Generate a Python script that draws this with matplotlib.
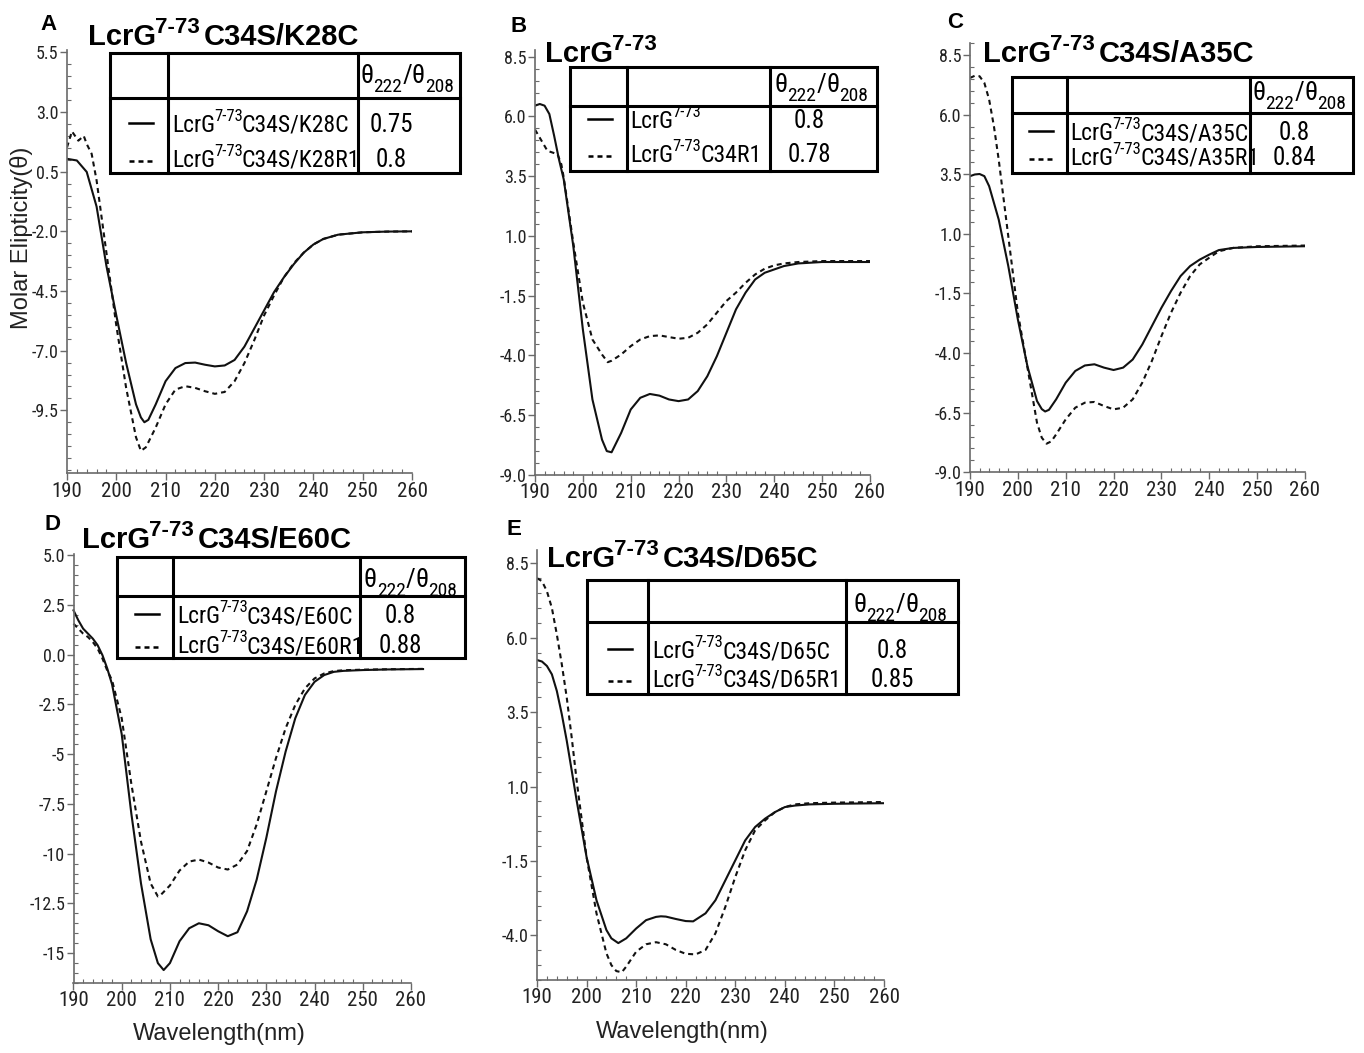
import matplotlib
matplotlib.use('Agg')
import matplotlib.pyplot as plt
from matplotlib import font_manager as fm
from matplotlib.patches import Rectangle
from matplotlib.ticker import FixedLocator, MultipleLocator

plt.rcParams['axes.unicode_minus'] = False

_have = set(f.name for f in fm.fontManager.ttflist)
NARROW = 'Liberation Sans'
for cand in ['Liberation Sans Narrow', 'Arial Narrow', 'Roboto Condensed', 'Archivo Narrow',
             'Barlow Semi Condensed', 'Asap Condensed']:
    if cand in _have:
        NARROW = cand
        break
SANS = 'Liberation Sans'

# ---------------- data ----------------
x_ticks = [190, 200, 210, 220, 230, 240, 250, 260]

# A  LcrG7-73 C34S/K28C
wl_A_cys = [190, 192, 194, 196, 198, 200, 202, 204, 205, 205.7, 206.5, 208, 210, 212, 214, 216, 218, 220,
            222, 224, 226, 228, 230, 232, 234, 236, 238, 240, 242, 245, 250, 255, 260]
A_cys = [1.04, 0.97, 0.49, -0.96, -3.45, -5.52, -7.52, -9.25, -9.8, -10.0, -9.9, -9.25, -8.28, -7.73,
         -7.52, -7.50, -7.59, -7.66, -7.62, -7.39, -6.83, -6.07, -5.31, -4.55, -3.93, -3.38, -2.90,
         -2.55, -2.32, -2.14, -2.04, -2.01, -2.0]
wl_A_r1 = [190, 191, 192.3, 193.4, 194, 195, 196, 198, 200, 202, 204, 205, 206, 208, 210, 212, 214, 216,
           218, 220, 222, 224, 226, 228, 230, 232, 234, 236, 238, 240, 242, 245, 250, 255, 260]
A_r1 = [1.52, 2.19, 1.80, 2.0, 1.66, 1.25, 0.14, -2.90, -5.94, -8.56, -10.63, -11.2, -11.05, -10.22,
        -9.25, -8.63, -8.49, -8.56, -8.70, -8.81, -8.73, -8.28, -7.52, -6.56, -5.52, -4.69, -3.93,
        -3.34, -2.90, -2.55, -2.32, -2.14, -2.04, -2.01, -2.0]

# B  LcrG7-73 / LcrG7-73 C34R1
wl_B_wt = [190, 191, 192, 193, 194, 195, 196, 198, 200, 202, 204, 205, 206, 208, 210, 212, 214, 216, 218,
           220, 222, 224, 226, 228, 230, 232, 234, 236, 238, 240, 242, 245, 250, 260]
B_wt = [6.45, 6.52, 6.45, 6.10, 5.19, 4.21, 3.37, 0.58, -2.91, -5.84, -7.52, -8.0, -8.05, -7.24, -6.26,
        -5.77, -5.61, -5.68, -5.84, -5.91, -5.84, -5.49, -4.87, -4.03, -3.05, -2.07, -1.37, -0.82,
        -0.54, -0.40, -0.26, -0.15, -0.09, -0.09]
wl_B_r1 = [190, 192.6, 194.7, 195.5, 196, 198, 200, 202, 204, 205.2, 206, 208, 210, 212, 214, 216, 218,
           220, 222, 224, 226, 228, 230, 232, 234, 236, 238, 240, 242, 245, 250, 260]
B_r1 = [5.45, 4.56, 4.42, 4.0, 3.45, 0.72, -1.79, -3.33, -3.96, -4.28, -4.22, -3.96, -3.61, -3.33, -3.19,
        -3.16, -3.23, -3.30, -3.26, -3.05, -2.70, -2.21, -1.72, -1.37, -0.96, -0.61, -0.37, -0.23,
        -0.15, -0.09, -0.05, -0.05]

# C  LcrG7-73 C34S/A35C
wl_C_cys = [190, 191, 192, 193, 194, 196, 198, 200, 202, 204, 205, 205.7, 206.5, 208, 210, 212, 214, 216,
            218, 220, 222, 224, 226, 228, 230, 232, 234, 236, 238, 240, 242, 245, 250, 260]
C_cys = [3.42, 3.49, 3.51, 3.42, 3.0, 1.60, -0.35, -2.59, -4.55, -6.01, -6.35, -6.45, -6.38, -5.94, -5.24,
         -4.75, -4.52, -4.47, -4.61, -4.71, -4.61, -4.27, -3.64, -2.87, -2.10, -1.40, -0.77, -0.35,
         -0.08, 0.13, 0.32, 0.41, 0.45, 0.48]
wl_C_r1 = [190, 191, 192, 193, 194, 195, 196, 198, 200, 202, 204, 205, 206, 207, 208, 210, 212, 214, 216,
           218, 220, 222, 224, 226, 228, 230, 232, 234, 236, 238, 240, 242, 245, 250, 260]
C_r1 = [7.54, 7.63, 7.61, 7.33, 6.63, 5.51, 4.11, 0.90, -2.31, -4.6, -6.92, -7.55, -7.8, -7.7, -7.41,
        -6.78, -6.29, -6.08, -6.05, -6.22, -6.36, -6.29, -5.94, -5.24, -4.33, -3.29, -2.31, -1.47,
        -0.77, -0.28, 0.0, 0.27, 0.41, 0.48, 0.51]

# D  LcrG7-73 C34S/E60C
wl_D_cys = [190, 191, 192, 193, 194, 195, 196, 197, 198, 200, 202, 204, 206, 207.5, 208.7, 210, 212, 214,
            216, 218, 220, 222, 224, 226, 228, 230, 232, 234, 236, 238, 240, 242, 244, 246, 250, 255, 262.5]
D_cys = [2.22, 1.72, 1.30, 1.05, 0.80, 0.47, -0.03, -0.70, -1.5, -4.0, -8.0, -11.5, -14.3, -15.5, -15.85,
         -15.5, -14.4, -13.75, -13.5, -13.6, -13.9, -14.15, -13.95, -12.9, -11.3, -9.2, -6.87, -4.87,
         -3.2, -2.03, -1.37, -1.03, -0.87, -0.82, -0.78, -0.75, -0.73]
wl_D_r1 = [190, 191, 192, 193, 194, 195, 196, 197, 198, 200, 202, 204, 206, 207.5, 208, 210, 212, 214,
           216, 218, 220, 222, 224, 226, 228, 230, 232, 234, 236, 238, 240, 242, 244, 246, 250, 255, 262.5]
D_r1 = [1.55, 1.30, 1.05, 0.88, 0.63, 0.30, -0.2, -0.8, -1.3, -3.2, -6.5, -9.4, -11.5, -12.15, -12.1,
        -11.6, -10.85, -10.4, -10.3, -10.45, -10.7, -10.8, -10.55, -9.87, -8.53, -6.87, -5.2, -3.7,
        -2.53, -1.7, -1.2, -0.95, -0.83, -0.79, -0.76, -0.74, -0.72]

# E  LcrG7-73 C34S/D65C
wl_E_cys = [190, 191, 192, 193, 194, 195, 196, 197, 198, 200, 202, 204, 205, 206.4, 208, 210, 212, 214,
            215, 216, 218, 220, 221.5, 224, 226, 228, 230, 232, 234, 236, 238, 240, 242, 245, 250, 260]
E_cys = [5.25, 5.20, 5.05, 4.77, 4.21, 3.43, 2.54, 1.54, 0.53, -1.37, -2.82, -3.82, -4.1, -4.26, -4.10,
         -3.77, -3.49, -3.38, -3.36, -3.37, -3.45, -3.52, -3.53, -3.26, -2.82, -2.15, -1.48, -0.81,
         -0.36, -0.08, 0.14, 0.31, 0.36, 0.40, 0.42, 0.44]
wl_E_r1 = [190, 191, 192, 193, 194, 195, 196, 197, 198, 200, 202, 204, 205, 206, 207.1, 208, 210, 212,
           214, 216, 218, 220, 222, 224, 226, 228, 230, 232, 234, 236, 238, 240, 242, 245, 250, 260]
E_r1 = [8.0, 7.90, 7.56, 7.0, 6.11, 5.11, 3.99, 2.65, 1.20, -1.37, -3.26, -4.60, -5.0, -5.2, -5.24,
        -5.05, -4.55, -4.30, -4.23, -4.30, -4.49, -4.62, -4.64, -4.49, -3.93, -3.04, -2.04, -1.14,
        -0.47, -0.14, 0.14, 0.31, 0.40, 0.44, 0.46, 0.48]

yt_A = [5.5, 3.0, 0.5, -2.0, -4.5, -7.0, -9.5]
yl_A = ['5.5', '3.0', '0.5', '-2.0', '-4.5', '-7.0', '-9.5']
yt_BC = [8.5, 6.0, 3.5, 1.0, -1.5, -4.0, -6.5, -9.0]
yl_BC = ['8.5', '6.0', '3.5', '1.0', '-1.5', '-4.0', '-6.5', '-9.0']
yt_D = [5.0, 2.5, 0.0, -2.5, -5.0, -7.5, -10.0, -12.5, -15.0]
yl_D = ['5.0', '2.5', '0.0', '-2.5', '-5', '-7.5', '-10', '-12.5', '-15']
yt_E = [8.5, 6.0, 3.5, 1.0, -1.5, -4.0]
yl_E = ['8.5', '6.0', '3.5', '1.0', '-1.5', '-4.0']

names_A = ['C34S/K28C', 'C34S/K28R1']
names_B = ['', 'C34R1']
names_C = ['C34S/A35C', 'C34S/A35R1']
names_D = ['C34S/E60C', 'C34S/E60R1']
names_E = ['C34S/D65C', 'C34S/D65R1']
ratio_A = ['0.75', '0.8']
ratio_B = ['0.8', '0.78']
ratio_C = ['0.8', '0.84']
ratio_D = ['0.8', '0.88']
ratio_E = ['0.8', '0.85']

# ---------------- layout (pixels, origin top-left) ----------------
W, H = 1364, 1053
panels = [
    dict(letter='A', title='C34S/K28C', wl=(wl_A_cys, wl_A_r1), y=(A_cys, A_r1), names=names_A, ratio=ratio_A,
         yt=yt_A, yl=yl_A, ylim=(-12.14, 5.6), rect=(67, 412, 50.0, 473.3),
         lpos=(40, 30), tpos=(88, 45), cols=(110, 168, 358, 460), rows=(53, 98, 173),
         base=(131.7, 167), hdr=83.3, vx=391),
    dict(letter='B', title='', wl=(wl_B_wt, wl_B_r1), y=(B_wt, B_r1), names=names_B, ratio=ratio_B,
         yt=yt_BC, yl=yl_BC, ylim=(-9.0, 8.8), rect=(535, 870, 49.5, 475),
         lpos=(510, 32), tpos=(545, 61.7), cols=(570, 626.7, 770, 876.7), rows=(66.7, 106, 170.7),
         base=(128.3, 161.7), hdr=91.7, vx=809),
    dict(letter='C', title='C34S/A35C', wl=(wl_C_cys, wl_C_r1), y=(C_cys, C_r1), names=names_C, ratio=ratio_C,
         yt=yt_BC, yl=yl_BC, ylim=(-9.0, 9.0), rect=(970, 1305, 43.1, 472.3),
         lpos=(947, 28), tpos=(983, 61.7), cols=(1011.7, 1066.7, 1250, 1352.7), rows=(76.7, 113.3, 172.7),
         base=(140, 165), hdr=100, vx=1294),
    dict(letter='D', title='C34S/E60C', wl=(wl_D_cys, wl_D_r1), y=(D_cys, D_r1), names=names_D, ratio=ratio_D,
         yt=yt_D, yl=yl_D, ylim=(-16.5, 5.05), rect=(73.5, 411, 554, 983),
         lpos=(45, 530), tpos=(82, 548), cols=(117, 173, 360, 465), rows=(556.7, 596, 658),
         base=(623.3, 653.3), hdr=586.7, vx=400),
    dict(letter='E', title='C34S/D65C', wl=(wl_E_cys, wl_E_r1), y=(E_cys, E_r1), names=names_E, ratio=ratio_E,
         yt=yt_E, yl=yl_E, ylim=(-5.5, 8.95), rect=(537, 884, 549.9, 980),
         lpos=(507, 535), tpos=(547, 566.7), cols=(586.7, 648.3, 846, 958.3), rows=(580, 621.7, 694),
         base=(658.3, 686.7), hdr=611.7, vx=892),
]

fig = plt.figure(figsize=(W / 100, H / 100), dpi=100)
AX_C = '#6a6a6a'

for p in panels:
    l, r, t, b = p['rect']
    ax = fig.add_axes([l / W, 1 - b / H, (r - l) / W, (b - t) / H])
    ax.patch.set_alpha(0)
    clip = p['letter'] != 'D'
    ax.plot(p['wl'][0], p['y'][0], color='#111111', lw=1.5, clip_on=clip)
    ax.plot(p['wl'][1], p['y'][1], color='#111111', lw=1.5, dashes=(2.4, 1.9), clip_on=clip)
    ax.set_xlim(190, 260)
    ax.set_ylim(*p['ylim'])
    for s in ['top', 'right']:
        ax.spines[s].set_visible(False)
    for s in ['left', 'bottom']:
        ax.spines[s].set_color(AX_C)
        ax.spines[s].set_linewidth(1.2)
    ax.xaxis.set_major_locator(FixedLocator(x_ticks))
    ax.set_xticklabels([str(v) for v in x_ticks], fontfamily=NARROW, fontsize=15, color='#222222')
    ax.yaxis.set_major_locator(FixedLocator(p['yt']))
    ax.set_yticklabels(p['yl'], fontfamily=NARROW, fontsize=13, color='#222222')
    ax.xaxis.set_minor_locator(MultipleLocator(2))
    ax.yaxis.set_minor_locator(MultipleLocator(0.5))
    ax.tick_params(which='major', direction='out', length=5, width=1.0, color=AX_C, pad=1)
    ax.tick_params(which='minor', direction='in', length=3, width=0.8, color=AX_C)

# overlay in pixel coordinates for titles and tables
over = fig.add_axes([0, 0, 1, 1])
over.set_xlim(0, W)
over.set_ylim(H, 0)
over.axis('off')
over.set_zorder(10)
renderer = fig.canvas.get_renderer()


def rich(x, y, pieces, family, weight='normal', align='left'):
    arts = []
    cx = x
    for s, size, rise, gap in pieces:
        cx += gap
        txt = over.text(cx, y - rise, s, fontsize=size, family=family, weight=weight,
                        ha='left', va='baseline', color='black')
        cx = txt.get_window_extent(renderer).x1
        arts.append(txt)
    if align == 'center':
        shift = (cx - x) / 2
        for txt in arts:
            txt.set_x(txt.get_position()[0] - shift)


for p in panels:
    lx, ly = p['lpos']
    over.text(lx, ly, p['letter'], fontsize=16, weight='bold', family=SANS, va='baseline')
    tx, ty = p['tpos']
    pieces = [('LcrG', 21, 0, 0), ('7-73', 16, 12, -1)]
    if p['title']:
        pieces.append((p['title'], 21, 0, 4))
    rich(tx, ty, pieces, SANS, weight='bold')

    x0, x1, x2, x3 = p['cols']
    y0, y1, y2 = p['rows']
    lw = 2.2
    over.add_patch(Rectangle((x0, y0), x3 - x0, y2 - y0, fill=False, lw=lw, ec='black'))
    over.plot([x0, x3], [y1, y1], color='black', lw=lw)
    over.plot([x1, x1], [y0, y2], color='black', lw=lw)
    over.plot([x2, x2], [y0, y2], color='black', lw=lw)

    rich((x2 + x3) / 2 - 2, p['hdr'],
         [('θ', 19, 0, 0), ('222', 14, -9, 0), ('/', 19, 0, 0), ('θ', 19, 0, 0), ('208', 14, -9, 0)],
         NARROW, align='center')

    sc = (x0 + x1) / 2 + 2
    b1, b2 = p['base']
    over.plot([sc - 12, sc + 12], [b1 - 9, b1 - 9], color='black', lw=1.8)
    over.plot([sc - 12, sc + 12], [b2 - 6, b2 - 6], color='black', lw=1.8, dashes=(2.0, 1.6))
    for base, nm, rt in zip(p['base'], p['names'], p['ratio']):
        pcs = [('LcrG', 17, 0, 0), ('7-73', 12, 11, -1)]
        if nm:
            pcs.append((nm, 17, 0, -1))
        rich(x1 + 4, base, pcs, NARROW)
        over.text(p['vx'], base, rt, fontsize=18, family=NARROW, ha='center', va='baseline')

over.text(22, 238, 'Molar Elipticity(θ)', rotation=90, ha='center', va='center',
          fontsize=17, family=SANS, color='#222222')
over.text(219, 1040, 'Wavelength(nm)', ha='center', va='baseline', fontsize=17, family=SANS, color='#222222')
over.text(682, 1038, 'Wavelength(nm)', ha='center', va='baseline', fontsize=17, family=SANS, color='#222222')

fig.savefig('out.png', dpi=100)
